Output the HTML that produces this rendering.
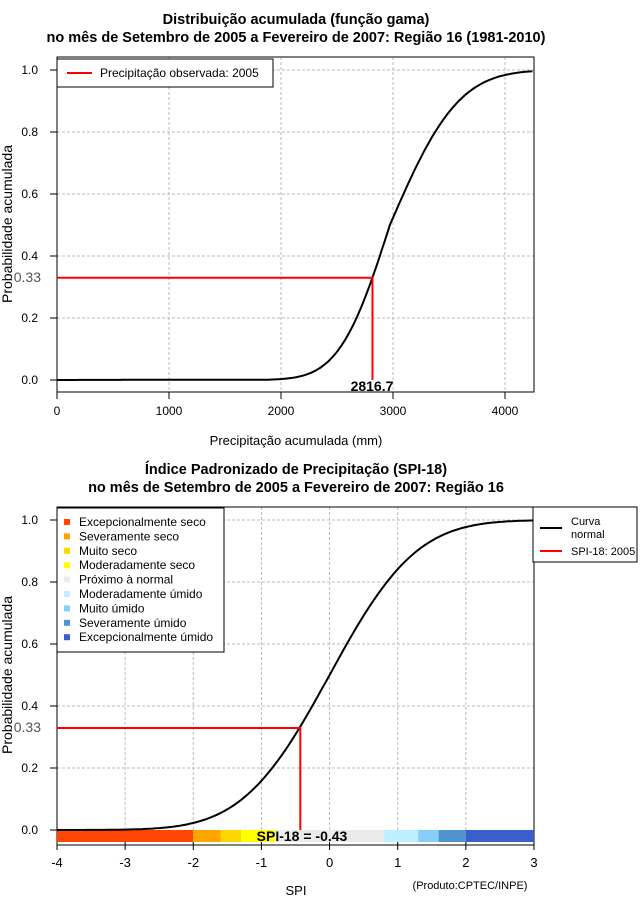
<!DOCTYPE html>
<html><head><meta charset="utf-8"><style>
body{margin:0;background:#fff}
text{font-family:"Liberation Sans",sans-serif}
</style></head><body>
<svg id="s" width="640" height="900" xmlns="http://www.w3.org/2000/svg">
<rect width="640" height="900" fill="#fff"/>
<g font-size="14.5" font-weight="bold" text-anchor="middle">
<text x="296" y="24">Distribuição acumulada (função gama)</text>
<text x="296" y="42">no mês de Setembro de 2005 a Fevereiro de 2007: Região 16 (1981-2010)</text>
<text x="296" y="474">Índice Padronizado de Precipitação (SPI-18)</text>
<text x="296" y="492">no mês de Setembro de 2005 a Fevereiro de 2007: Região 16</text>
</g>
<g id="g1" stroke="#bbb" stroke-dasharray="3,2" stroke-width="1"></g>
<g id="g2" stroke="#bbb" stroke-dasharray="3,2" stroke-width="1"></g>
<rect x="57" y="57" width="477" height="335" fill="none" stroke="#000"/>
<rect x="57" y="507" width="477" height="338" fill="none" stroke="#000"/>
<g id="bar"></g>
<path id="c1" fill="none" stroke="#000" stroke-width="2"/>
<path id="c2" fill="none" stroke="#000" stroke-width="2"/>
<path d="M57 277.7H372.5V380" fill="none" stroke="#f00" stroke-width="2"/>
<path d="M57 728H300.3V830" fill="none" stroke="#f00" stroke-width="2"/>
<g id="ax" font-size="12" fill="#000"></g>
<text transform="translate(12 224) rotate(-90)" font-size="14" text-anchor="middle">Probabilidade acumulada</text>
<text transform="translate(12 675) rotate(-90)" font-size="14" text-anchor="middle">Probabilidade acumulada</text>
<text x="372" y="391" font-size="14" text-anchor="middle" font-weight="bold">2816.7</text>
<text x="41" y="282" font-size="14" text-anchor="end" fill="#555">0.33</text>
<text x="41" y="732" font-size="14" text-anchor="end" fill="#555">0.33</text>
<text x="302" y="841" font-size="14" text-anchor="middle" font-weight="bold">SPI-18 = -0.43</text>
<text x="296" y="445" font-size="13" text-anchor="middle">Precipitação acumulada (mm)</text>
<text x="296" y="895" font-size="13" text-anchor="middle">SPI</text>
<text x="470" y="889" font-size="11" text-anchor="middle">(Produto:CPTEC/INPE)</text>
<rect x="57" y="59" width="216" height="28" fill="#fff" stroke="#000"/>
<line x1="67" y1="73" x2="92" y2="73" stroke="#f00" stroke-width="2"/>
<text x="100" y="77" font-size="12">Precipitação observada: 2005</text>
<rect x="57" y="508" width="167" height="144" fill="#fff" stroke="#000"/>
<g id="leg" font-size="12"></g>
<rect x="533" y="507" width="104" height="55" fill="#fff" stroke="#000"/>
<line x1="540" y1="528" x2="562" y2="528" stroke="#000" stroke-width="2"/>
<line x1="540" y1="551" x2="562" y2="551" stroke="#f00" stroke-width="2"/>
<text x="571" y="525" font-size="11">Curva</text>
<text x="571" y="538" font-size="11">normal</text>
<text x="571" y="555" font-size="11">SPI-18: 2005</text>
</svg>
<script>
var NS="http://www.w3.org/2000/svg";
function el(p,t,a,txt){var e=document.createElementNS(NS,t);for(var k in a)e.setAttribute(k,a[k]);if(txt!=null)e.textContent=txt;document.getElementById(p).appendChild(e);return e;}
function erf(x){var s=x<0?-1:1;x=Math.abs(x);var t=1/(1+0.3275911*x);var y=1-(((((1.061405429*t-1.453152027)*t)+1.421413741)*t-0.284496736)*t+0.254829592)*t*Math.exp(-x*x);return s*y;}
function Phi(z){return 0.5*(1+erf(z/Math.SQRT2));}
[0.2,0.4,0.6,0.8,1.0].forEach(function(p){var y=380-310*p;el("g1","line",{x1:57,x2:534,y1:y,y2:y});el("g2","line",{x1:57,x2:534,y1:830-310*p,y2:830-310*p});});
[1000,2000,3000,4000].forEach(function(v){var x=57+v*0.112;el("g1","line",{x1:x,x2:x,y1:57,y2:392});});
[-3,-2,-1,0,1,2].forEach(function(v){var x=57+(v+4)*68.14;el("g2","line",{x1:x,x2:x,y1:507,y2:845});});
var segs=[[-4,-2,"#FF4500"],[-2,-1.6,"#FFA500"],[-1.6,-1.3,"#FFD700"],[-1.3,-0.8,"#FFFF00"],[-0.8,0.8,"#EBEBEB"],[0.8,1.3,"#BFEFFF"],[1.3,1.6,"#87CEFA"],[1.6,2,"#4F94CD"],[2,3,"#3A5FCD"]];
segs.forEach(function(s){var a=57+(s[0]+4)*68.14,b=57+(s[1]+4)*68.14;el("bar","rect",{x:a,y:830,width:b-a,height:12,fill:s[2]});});
var d="";for(var v=0;v<=4258;v+=15){var z=v<2972?(v-2972)/354:(v-2972)/480;var p=v<1200?0.001*v/1200:Math.max(Phi(z),0.001);d+=(v?"L":"M")+(57+v*0.112).toFixed(1)+" "+(380-310*p).toFixed(1);}
document.getElementById("c1").setAttribute("d",d);
d="";for(var v=-4;v<=3.001;v+=0.05){d+=(v>-4?"L":"M")+(57+(v+4)*68.14).toFixed(1)+" "+(830-310*Phi(v)).toFixed(1);}
document.getElementById("c2").setAttribute("d",d);
[0,0.2,0.4,0.6,0.8,1.0].forEach(function(p){[380,830].forEach(function(b){var y=b-310*p;el("ax","line",{x1:50,x2:57,y1:y,y2:y,stroke:"#000"});el("ax","text",{x:38,y:y+4,"text-anchor":"end","font-size":12},p.toFixed(1));});});
[0,1000,2000,3000,4000].forEach(function(v){var x=57+v*0.112;el("ax","line",{x1:x,x2:x,y1:392,y2:399,stroke:"#000"});el("ax","text",{x:x,y:415,"text-anchor":"middle"},v);});
for(var v=-4;v<=3;v++){var x=57+(v+4)*68.14;el("ax","line",{x1:x,x2:x,y1:842,y2:850,stroke:"#000"});el("ax","text",{x:x,y:867,"text-anchor":"middle","font-size":13},v);}
var L=[["#FF4500","Excepcionalmente seco"],["#FFA500","Severamente seco"],["#FFD700","Muito seco"],["#FFFF00","Moderadamente seco"],["#EBEBEB","Próximo à normal"],["#BFEFFF","Moderadamente úmido"],["#87CEFA","Muito úmido"],["#4F94CD","Severamente úmido"],["#3A5FCD","Excepcionalmente úmido"]];
L.forEach(function(l,i){var y=522+i*14.4;el("leg","rect",{x:64,y:y-3,width:6,height:6,fill:l[0]});el("leg","text",{x:79,y:y+4},l[1]);});
</script>
</body></html>
